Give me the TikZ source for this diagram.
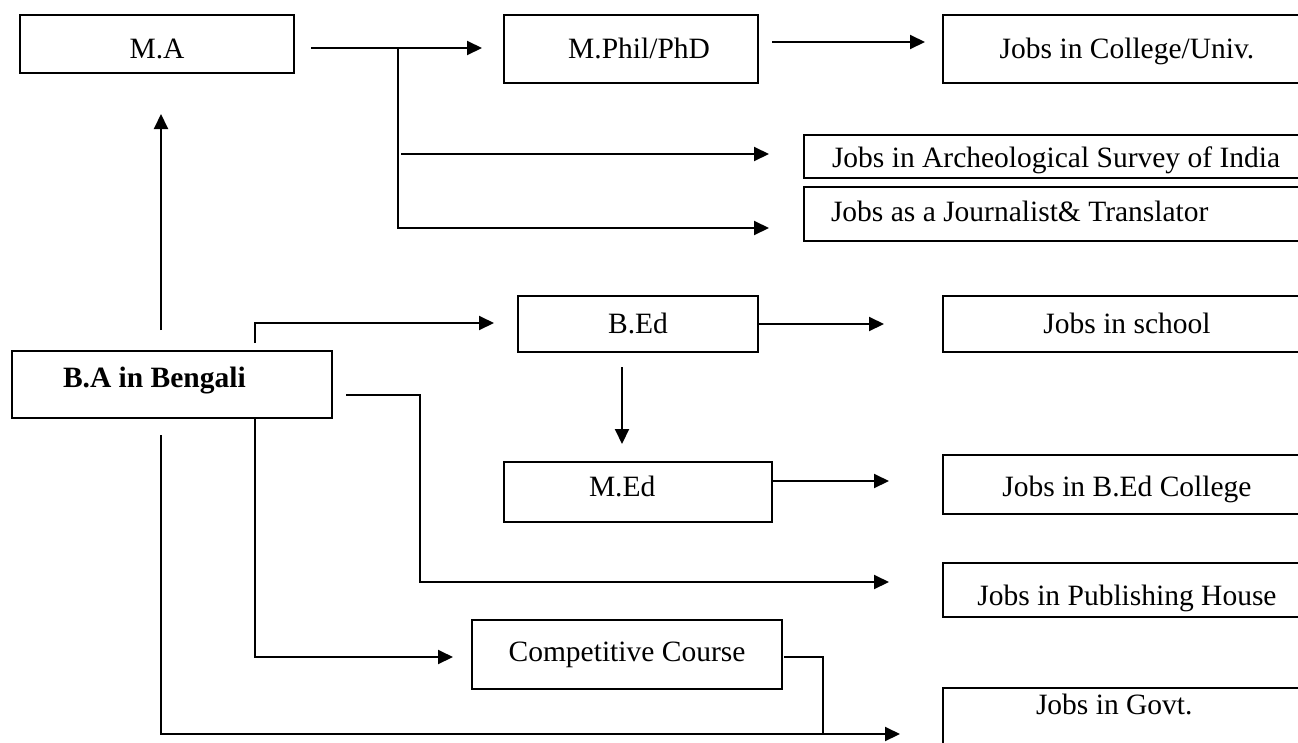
\documentclass[tikz,border=0pt]{standalone}
\usepackage{fontspec}
\setmainfont{Liberation Serif}
\usetikzlibrary{arrows.meta}
\usetikzlibrary{calc}

\tikzset{
    box/.style={draw, anchor=north west, inner sep=0pt, align=center},
    arr/.style={-{Triangle[length=15pt,width=14pt]}}
}

\begin{document}
\begin{tikzpicture}   [x=1pt, y=-1pt, line width=2pt, font=\fontsize{29.5}{34}\selectfont]
    \useasboundingbox (0,0) rectangle (1298,742);
    \clip (0,0) rectangle (1298,742);
    
    \node[box, minimum width=274pt, minimum height=58pt, text height=28pt, text depth=0pt] (ma) at (19,14) {M.A};
    \node[box, minimum width=254pt, minimum height=68pt, inner xsep=48pt, text width=158pt, align=flush right, text height=20pt, text depth=2pt] (mphil) at (503,14) {M.Phil/PhD};
    \node[box, minimum width=368pt, minimum height=68pt, text height=20pt, text depth=2pt] (college) at (942,14) {Jobs in College/Univ.};
    \node[box, minimum width=507pt, minimum height=43pt, inner xsep=28pt, text width=480pt, align=flush left, text height=21pt, text depth=0pt] (arch) at (803,134) {Jobs in Archeological Survey of India};
    \node[box, minimum width=507pt, minimum height=54pt, inner xsep=27pt, text width=480pt, align=flush left, text height=20pt, text depth=6pt] (journ) at (803,186) {Jobs as a Journalist\& Translator};
    
    \node[box, minimum width=320pt, minimum height=67pt, inner xsep=51pt, text width=218pt, align=flush left, text height=20pt, text depth=15pt] (ba) at (11,350) {\bfseries B.A in Bengali};
    \node[box, minimum width=240pt, minimum height=56pt, text height=20pt, text depth=2pt] (bed) at (517,295) {B.Ed};
    \node[box, minimum width=368pt, minimum height=56pt, text height=20pt, text depth=2pt] (school) at (942,295) {Jobs in school};
    \node[box, minimum width=268pt, minimum height=60pt, inner xsep=85pt, text width=98pt, align=flush left, text height=20pt, text depth=12pt] (med) at (503,461) {M.Ed};
    \node[box, minimum width=368pt, minimum height=59pt, text height=23pt, text depth=0pt] (bedcol) at (942,454) {Jobs in B.Ed College};
    \node[box, minimum width=368pt, minimum height=54pt, text height=30pt, text depth=0pt] (pub) at (942,562) {Jobs in Publishing House};
    \node[box, minimum width=310pt, minimum height=69pt, text height=20pt, text depth=7pt] (cc) at (471,619) {Competitive Course};
    \node[box, minimum width=368pt, minimum height=90pt, inner xsep=93pt, text width=182pt, align=flush left, text height=20pt, text depth=58pt] (govt) at (942,687) {Jobs in Govt.};
    
    \coordinate (fork) at ($(ma.east)+(103,4)$);
    \draw[arr] ($(ma.east)+(16,4)$) -- ($(mphil.west)+(-21,-1)$);
    \draw[arr] (fork) |- ($(journ.west)+(-34,14)$);
    \draw[arr] ($(fork)+(3,106)$) -- ($(arch.west)+(-34,-2.5)$);
    \draw[arr] ($(mphil.east)+(13,-7)$) -- ($(college.west)+(-17,-7)$);
    
    \draw[arr] ($(ba.north west)+(150,-20)$) -- ($(ma.south west)+(142,40)$);
    \draw[arr] ($(ba.north west)+(244,-7)$) |- ($(bed.west)+(-23,-1)$);
    \draw[arr] (bed.east) -- ($(school.west)+(-58,0)$);
    \draw[arr] ($(bed.south)+(-16,14)$) -- ($(med.north)+(-16,-17)$);
    \draw[arr] ($(med.east)+(0,-11)$) -- ($(bedcol.west)+(-53,-3.5)$);
    \draw[arr] ($(ba.east)+(13,10.5)$) -- ++(74,0) |- ($(pub.west)+(-53,-8)$);
    \draw[arr] ($(ba.south west)+(244,0)$) |- ($(cc.west)+(-18,2.5)$);
    \draw[arr] ($(ba.south west)+(150,16)$) |- ($(govt.west)+(-42,1)$);
    \draw ($(cc.east)+(1,2.5)$) -| ($(govt.west)+(-119,1)$);
\end{tikzpicture}
\end{document}
